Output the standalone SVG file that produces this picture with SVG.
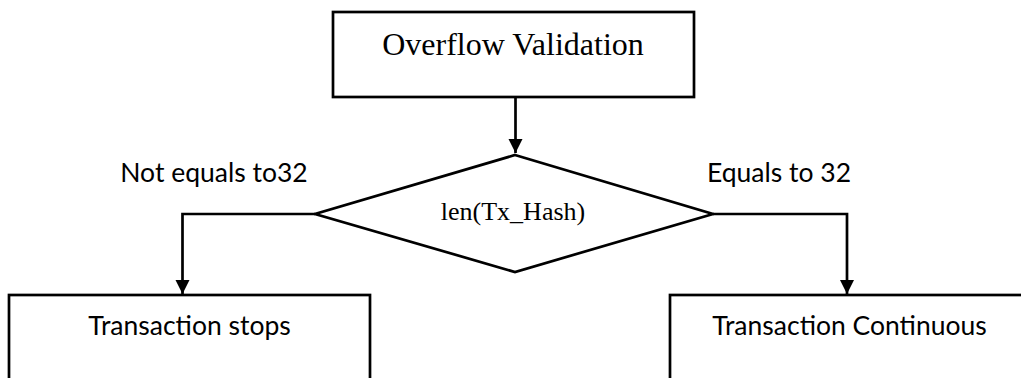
<svg xmlns="http://www.w3.org/2000/svg" width="1021" height="378" viewBox="0 0 1021 378">
<defs>
<style>
.box{fill:#fff;stroke:#000;stroke-width:2.7}
.line{fill:none;stroke:#000;stroke-width:2.7}
.serif{font-family:"Liberation Serif","Times New Roman",serif;fill:#000}
.sans{font-family:Lato,"Open Sans",sans-serif;fill:#000}
</style>
<marker id="arrow" markerUnits="userSpaceOnUse" markerWidth="16" markerHeight="16" viewBox="0 0 16 16" refX="14" refY="8" orient="auto">
<path d="M0,1 L14,8 L0,15 Z" fill="#000"/>
</marker>
</defs>
<rect width="1021" height="378" fill="#fff"/>
<g id="connectors">
<path class="line" d="M515.5,97 V153" marker-end="url(#arrow)"/>
<path class="line" d="M315,214 H182.5 V294" marker-end="url(#arrow)"/>
<path class="line" d="M713,214 H847 V294" marker-end="url(#arrow)"/>
</g>
<g id="overflow-validation">
<rect class="box" x="333" y="12" width="361" height="85"/>
<text class="serif" x="513" y="55" font-size="32" text-anchor="middle">Overflow Validation</text>
</g>
<g id="len-tx-hash">
<polygon class="box" points="515,155 713,214 515,272 315,214"/>
<text class="serif" x="513" y="220" font-size="26" text-anchor="middle">len(Tx_Hash)</text>
</g>
<g id="transaction-stops">
<rect class="box" x="9" y="295" width="361" height="100"/>
<text class="sans" x="189.5" y="335" font-size="26.5" text-anchor="middle">Transaction stops</text>
</g>
<g id="transaction-continuous">
<rect class="box" x="670" y="295" width="370" height="100"/>
<text class="sans" x="849.5" y="335" font-size="26.5" text-anchor="middle">Transaction Continuous</text>
</g>
<g id="labels">
<text class="sans" x="214" y="182" font-size="26.5" text-anchor="middle">Not equals to32</text>
<text class="sans" x="779" y="182" font-size="26.5" text-anchor="middle">Equals to 32</text>
</g>
</svg>
